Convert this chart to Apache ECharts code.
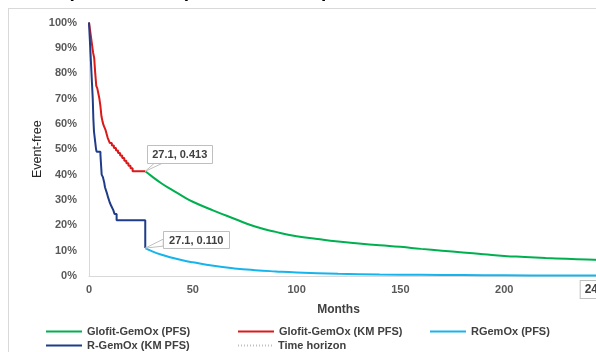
<!DOCTYPE html>
<html><head><meta charset="utf-8">
<script src="https://cdn.jsdelivr.net/npm/echarts@6/dist/echarts.min.js"></script>
<style>html,body{margin:0;padding:0;overflow:hidden;background:#fff;width:596px;height:352px}#c{width:640px;height:352px}</style>
</head><body><div id="c"></div>
<script>
// ---- data ----
var seriesNames = ['Glofit-GemOx (PFS)', 'Glofit-GemOx (KM PFS)', 'RGemOx (PFS)', 'R-GemOx (KM PFS)', 'Time horizon'];
var glofitPFS = [[27.1,41.3],[30,39.5],[35,36.5],[40,34],[45,31.5],[50,29.3],[60,25.8],[70,22.6],[80,19.5],[90,17.4],[100,15.7],[110,14.6],[120,13.6],[130,12.8],[140,12.1],[150,11.5],[160,10.7],[170,10.0],[180,9.3],[190,8.6],[200,7.9],[210,7.5],[220,7.1],[230,6.8],[240,6.5],[250,6.2]];
var glofitKM = [[0,100],[0.5,97],[1,94],[1.5,91],[2,88],[2.5,86],[3,80],[3.5,75],[4,74],[4.5,72],[5,70],[5.5,67],[6,63],[6.5,61],[7,59.5],[7.5,58.5],[8,57.5],[8.5,56],[9,54.5],[9.5,53.5],[10,52.5],[11,51.5],[12,50.5],[13,49.5],[14,48.5],[15,47.5],[16,46.5],[17,45.5],[18,44.5],[19,43.5],[20,42.5],[21,41.3],[27.1,41.3]];
var rgemoxPFS = [[27.1,11.0],[30,9.9],[35,8.4],[40,7.2],[45,6.2],[50,5.4],[60,4.0],[70,3.0],[80,2.3],[90,1.8],[100,1.4],[120,0.9],[140,0.6],[160,0.45],[180,0.35],[200,0.28],[225,0.22],[250,0.18]];
var rgemoxKM = [[0,100],[0.3,95],[0.6,90],[0.9,85],[1.2,80],[1.5,75],[1.8,70],[2.1,62],[2.4,57],[2.9,53.5],[3.4,50],[3.7,49],[5.5,48],[5.8,44],[6.1,40],[6.7,39],[7.3,37],[7.7,35],[8.5,33],[9.2,31],[10,29],[10.8,27.5],[11.7,26],[12.3,24.5],[13.3,22],[27.1,22],[27.1,11.0]];
var timeHorizon = [[246,0],[246,100]];
var annotations = [{x:27.1, y:41.3, text:'27.1, 0.413'}, {x:27.1, y:11.0, text:'27.1, 0.110'}];
var titleText = 'curves (27.1 months) as truncation point';

var FONT = '"Liberation Sans", Arial, sans-serif';
var chart = echarts.init(document.getElementById('c'), null, {renderer:'canvas'});
var legendText = {fontFamily:FONT, fontSize:11, fontWeight:'bold', color:'#404040'};
var solidIcon = 'path://M0,0H36V2H0Z';
var dottedIcon = 'path://M0,0H1V2H0ZM3,0H4V2H3ZM6,0H7V2H6ZM9,0H10V2H9ZM12,0H13V2H12ZM15,0H16V2H15ZM18,0H19V2H18ZM21,0H22V2H21ZM24,0H25V2H24ZM27,0H28V2H27ZM30,0H31V2H30ZM33,0H34V2H33Z';
function legend(left, top, name, dotted){
  return {left:left, top:top, orient:'horizontal', itemWidth:36, itemHeight:2, itemGap:4,
    data:[{name:name, icon: dotted ? dottedIcon : solidIcon}], textStyle:legendText, selectedMode:false};
}
chart.setOption({
  animation:false,
  grid:{left:89, right:32, top:22.5, bottom:76, containLabel:false},
  xAxis:{type:'value', min:0, max:250, interval:50,
    axisLine:{lineStyle:{color:'#d9d9d9', width:1}}, axisTick:{show:false}, splitLine:{show:false},
    axisLabel:{fontFamily:FONT, fontSize:11, fontWeight:'bold', color:'#595959', margin:8},
    name:'Months', nameLocation:'middle', nameGap:28,
    nameTextStyle:{fontFamily:FONT, fontSize:12, fontWeight:'bold', color:'#404040', padding:[0,20,0,0]}},
  yAxis:{type:'value', min:0, max:100, interval:10,
    axisLine:{show:true, lineStyle:{color:'#d9d9d9', width:1}}, axisTick:{show:false}, splitLine:{show:false},
    axisLabel:{fontFamily:FONT, fontSize:11, fontWeight:'bold', color:'#595959', margin:12, formatter:'{value}%'},
    name:'Event-free', nameLocation:'middle', nameGap:45, nameMoveOverlap:false,
    nameTextStyle:{fontFamily:FONT, fontSize:12.5, color:'#262626'}},
  legend:[legend(41,321,seriesNames[0]), legend(233,321,seriesNames[1]), legend(425,321,seriesNames[2]),
          legend(41,335,seriesNames[3]), legend(233,335,seriesNames[4],true)],
  series:[
    {name:seriesNames[0], type:'line', data:glofitPFS, showSymbol:false, symbol:'none', smooth:true, lineStyle:{color:'#00B050', width:2}, itemStyle:{color:'#00B050'}, z:3},
    {name:seriesNames[1], type:'line', data:glofitKM, showSymbol:false, symbol:'none', step:'end', lineStyle:{color:'#D91A1A', width:2}, itemStyle:{color:'#D91A1A'}, z:3},
    {name:seriesNames[2], type:'line', data:rgemoxPFS, showSymbol:false, symbol:'none', smooth:true, lineStyle:{color:'#16B4EC', width:2}, itemStyle:{color:'#16B4EC'}, z:3},
    {name:seriesNames[3], type:'line', data:rgemoxKM, showSymbol:false, symbol:'none', step:'end', lineStyle:{color:'#1F3C88', width:2}, itemStyle:{color:'#1F3C88'}, z:3},
    {name:seriesNames[4], type:'line', showSymbol:true, symbol:'circle', symbolSize:0.1,
      data:timeHorizon.map(function(d,i){return i===0?{value:d, label:{show:true}}:d;}),
      lineStyle:{color:'#bfbfbf', width:1.5, type:'dotted'}, itemStyle:{color:'#bfbfbf'},
      label:{show:false, position:'bottom', distance:5, offset:[-5,0], formatter:function(p){return String(p.value[0]);},
        fontFamily:FONT, fontSize:12, fontWeight:'bold', color:'#404040', backgroundColor:'#fff', borderColor:'#bfbfbf', borderWidth:1, padding:[3,4,2,4]}}
  ]
});

// graphics: title strip, border, callouts (positioned through the chart's scales)
var g = [];
g.push({type:'text', left:1, top:-18, style:{text:titleText, font:'bold 19px '+FONT, fill:'#000'}, z:100});
g.push({type:'line', shape:{x1:8, y1:8.5, x2:640, y2:8.5}, style:{stroke:'#d9d9d9', lineWidth:1}, z:100});
g.push({type:'line', shape:{x1:8.5, y1:8, x2:8.5, y2:360}, style:{stroke:'#d9d9d9', lineWidth:1}, z:100});
var boxDefs = [{dx:2, dy:-26, w:65, h:18, wedge:[[9,-8],[17,-8]]}, {dx:18, dy:-17, w:66, h:17, wedge:[[18,-9],[18,-2]]}];
annotations.forEach(function(a, i){
  var p = chart.convertToPixel({gridIndex:0}, [a.x, a.y]);
  var b = boxDefs[i];
  g.push({type:'polygon', shape:{points:[[p[0],p[1]],[p[0]+b.wedge[0][0],p[1]+b.wedge[0][1]],[p[0]+b.wedge[1][0],p[1]+b.wedge[1][1]]]}, style:{fill:'#fff', stroke:'#bfbfbf', lineWidth:1}, z:50});
  g.push({type:'rect', shape:{x:Math.round(p[0]+b.dx)+0.5, y:Math.round(p[1]+b.dy)+0.5, width:b.w, height:b.h}, style:{fill:'#fff', stroke:'#bfbfbf', lineWidth:1}, z:51});
  g.push({type:'text', x:p[0]+b.dx+b.w/2, y:p[1]+b.dy+b.h/2+1, style:{text:a.text, font:'bold 11px '+FONT, fill:'#404040', textAlign:'center', textVerticalAlign:'middle'}, z:52});
});
chart.setOption({graphic:g});
</script></body></html>
